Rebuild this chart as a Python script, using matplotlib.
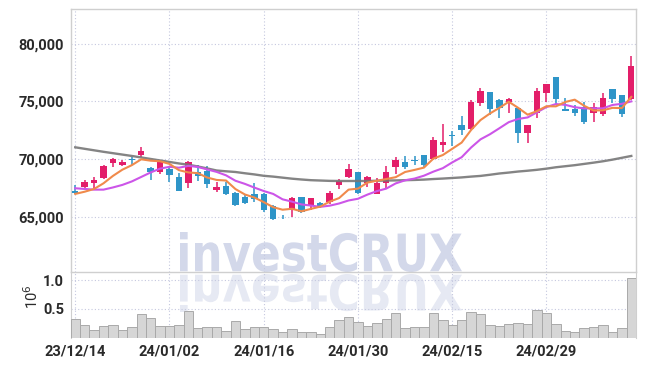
import numpy as np
import matplotlib.pyplot as plt
from matplotlib.textpath import TextPath
from matplotlib.patches import PathPatch
from matplotlib.font_manager import FontProperties
from matplotlib.transforms import Affine2D, IdentityTransform
from matplotlib.ticker import FuncFormatter

# dane (kurs dzienny, 60 sesji)
tick_labels = ['23/12/14', '24/01/02', '24/01/16', '24/01/30', '24/02/15', '24/02/29']
tick_pos = [0, 10, 20, 30, 40, 50]

opens = [67250, 67570, 67890, 68330, 69630, 69510, 70000, 70350, 69190, 68850,
         69110, 68410, 67950, 68900, 68990, 67310, 67660, 67030, 66730, 66970,
         66970, 65920, 65000, 65640, 66680, 66010, 66160, 66300, 67750, 68470,
         68870, 67890, 66970, 67890, 69280, 69770, 69910, 70350, 69970, 71240,
         72110, 72950, 72570, 74830, 75810, 75120, 74970, 74400, 72280, 73960,
         75750, 77080, 74310, 74310, 74530, 73960, 73880, 76040, 75550, 75180]
closes = [67030, 68030, 68180, 69420, 69970, 69770, 69950, 70720, 68850, 69710,
          68610, 67250, 69710, 68550, 67810, 67600, 66970, 66010, 66210, 66510,
          65580, 64770, 64950, 66590, 65430, 66590, 65810, 67080, 68120, 69110,
          67030, 68410, 67890, 68850, 69910, 69280, 69830, 69480, 71650, 71470,
          71990, 72510, 74940, 75920, 74360, 74400, 75200, 72280, 72950, 75900,
          76500, 75160, 74190, 73960, 73230, 74480, 75260, 75200, 73880, 78060]
highs = [67750, 68180, 68470, 69510, 70090, 69910, 70150, 71070, 69300, 69880,
         69330, 68760, 69830, 69480, 69420, 68030, 68030, 67160, 66880, 67900,
         67030, 66010, 65140, 66730, 66730, 66640, 66300, 67250, 68240, 69570,
         68900, 68530, 68330, 69390, 70150, 70260, 70290, 70350, 71880, 73010,
         72450, 73730, 75110, 76130, 75810, 75180, 75260, 74420, 72950, 76130,
         76500, 77080, 75260, 74680, 74970, 74830, 75750, 76040, 75550, 78930]
lows = [66970, 67460, 67490, 68240, 69330, 69390, 69480, 70200, 68180, 68670,
        68030, 67200, 67510, 68090, 67510, 67170, 66880, 65930, 66100, 66300,
        65400, 64710, 64770, 64950, 65320, 65580, 65730, 66100, 67370, 68330,
        66970, 67550, 66920, 67370, 68700, 69110, 69480, 69330, 69910, 70630,
        71130, 72080, 72510, 74600, 73810, 73530, 73960, 71410, 71360, 73580,
        74970, 74680, 74190, 73730, 73030, 73230, 73750, 74830, 73670, 75120]

ma5 = [66970, 67160, 67400, 67890, 68530, 69070, 69460, 69970, 69850, 69800,
       69570, 69030, 68830, 68770, 68390, 68180, 68130, 67390, 66920, 66660,
       66260, 65820, 65600, 65680, 65460, 65670, 65870, 66300, 66610, 67340,
       67430, 67950, 68110, 68260, 68420, 68870, 69050, 69250, 70030, 70340,
       70880, 71420, 72510, 73370, 73940, 74430, 74960, 74430, 73840, 74150,
       74570, 74560, 74940, 75140, 74610, 74200, 74220, 74430, 74410, 75380]
ma10 = [67460, 67400, 67340, 67340, 67530, 67750, 68050, 68440, 68830, 69160,
        69320, 69240, 69400, 69310, 69090, 68880, 68580, 68110, 67840, 67520,
        67220, 66970, 66500, 66300, 66060, 65960, 65850, 65950, 66140, 66400,
        66550, 66910, 67210, 67430, 67880, 68150, 68300, 68550, 68900, 69200,
        69700, 70150, 70990, 71700, 72140, 72660, 73190, 73470, 73600, 74050,
        74500, 74760, 74690, 74490, 74380, 74390, 74390, 74680, 74780, 74990]
ma_long = [71010, 70880, 70750, 70620, 70500, 70380, 70260, 70130, 70000, 69870,
           69740, 69610, 69500, 69350, 69180, 69000, 68930, 68870, 68760, 68660,
           68540, 68470, 68380, 68290, 68220, 68160, 68130, 68100, 68090, 68090,
           68090, 68090, 68110, 68130, 68140, 68160, 68180, 68210, 68260, 68300,
           68350, 68400, 68470, 68530, 68630, 68740, 68820, 68910, 68980, 69060,
           69160, 69280, 69370, 69460, 69570, 69680, 69800, 69940, 70100, 70260]

# wolumen w milionach
volumes = [0.317, 0.217, 0.130, 0.200, 0.217, 0.130, 0.177, 0.405, 0.334, 0.200,
           0.200, 0.217, 0.461, 0.170, 0.190, 0.183, 0.108, 0.282, 0.144, 0.177,
           0.177, 0.143, 0.092, 0.143, 0.104, 0.092, 0.057, 0.177, 0.304, 0.351,
           0.264, 0.195, 0.247, 0.317, 0.421, 0.157, 0.177, 0.177, 0.421, 0.304,
           0.217, 0.304, 0.438, 0.405, 0.217, 0.200, 0.235, 0.247, 0.230, 0.478,
           0.421, 0.235, 0.113, 0.090, 0.162, 0.179, 0.214, 0.090, 0.162, 1.030]

UP = '#e31e69'
DOWN = '#2e95c8'
GRID = '#c5c8df'
SPINE = '#cfcfcf'
TXT = '#2a2a2a'

plt.rcParams['font.family'] = ['Roboto', 'DejaVu Sans']

W, H = 645, 366
fig = plt.figure(figsize=(W / 100, H / 100), dpi=100)
ax = fig.add_axes([71 / W, 1 - 272 / H, (636 - 71) / W, (272 - 9) / H])
axv = fig.add_axes([71 / W, 1 - 337.5 / H, (636 - 71) / W, 65.5 / H], sharex=ax)

# znak wodny + odbicie
fp = FontProperties(family='DejaVu Sans', weight='bold')
tp = TextPath((0, 0), 'investCRUX', size=100, prop=fp)
bb = tp.get_extents()
sx = 282 / bb.width
sy = 40 / bb.height
t1 = Affine2D().translate(-bb.x0, -bb.y0).scale(sx, sy).translate(180, H - 272)
t2 = Affine2D().translate(-bb.x0, -bb.y0).scale(sx, -sy * 0.95).translate(180, H - 274)
fig.add_artist(PathPatch(t1.transform_path(tp), fc='#d3d8ea', ec='none',
                         transform=IdentityTransform(), zorder=-5))
fig.add_artist(PathPatch(t2.transform_path(tp), fc='#e6e9f3', ec='none',
                         transform=IdentityTransform(), zorder=-5))

x = np.arange(len(closes))
o = np.array(opens)
c = np.array(closes)
colors = [UP if cc >= oo else DOWN for oo, cc in zip(o, c)]

# świece
ax.vlines(x, lows, highs, colors=colors, linewidth=1.1, zorder=3)
ax.bar(x, np.maximum(np.abs(c - o), 40), bottom=np.minimum(o, c), width=0.68,
       color=colors, linewidth=0, zorder=3)

ax.plot(x, ma_long, color='#777777', linewidth=1.7, alpha=0.9, zorder=4)
ax.plot(x, ma10, color='#cc55e8', linewidth=1.5, zorder=4)
ax.plot(x, ma5, color='#f08a4b', linewidth=1.5, zorder=4)

ax.set_ylim(60200, 83000)
ax.set_xlim(-0.45, 59.5)
ax.set_yticks([65000, 70000, 75000, 80000])
ax.yaxis.set_major_formatter(FuncFormatter(lambda v, p: f'{int(v):,}'))
ax.set_facecolor('none')
ax.grid(True, color=GRID, linestyle=(0, (1, 2)), linewidth=0.8)
ax.set_axisbelow(True)
ax.tick_params(axis='both', length=0, labelsize=10.5, labelcolor=TXT, pad=5)
ax.tick_params(axis='x', labelbottom=False)
for s in ['top', 'left', 'right', 'bottom']:
    ax.spines[s].set_color(SPINE)
    ax.spines[s].set_linewidth(1.0)
for lab in ax.get_yticklabels():
    lab.set_fontweight('bold')

# wolumen
axv.bar(x, volumes, width=1.0, color='#d6d6d6', edgecolor='#a9a9a9', linewidth=0.7, zorder=3)
axv.set_ylim(0, 1.14)
axv.set_yticks([0.5, 1.0])
axv.set_yticklabels(['0.5', '1.0'])
axv.set_xticks(tick_pos)
axv.set_xticklabels(tick_labels)
axv.set_facecolor('none')
axv.grid(True, color=GRID, linestyle=(0, (1, 2)), linewidth=0.8)
axv.set_axisbelow(True)
axv.tick_params(axis='both', length=0, labelsize=10.5, labelcolor=TXT, pad=5)
axv.spines['top'].set_visible(False)
axv.spines['bottom'].set_visible(False)
axv.spines['left'].set_color(SPINE)
axv.spines['right'].set_color(SPINE)
for lab in axv.get_yticklabels() + axv.get_xticklabels():
    lab.set_fontweight('bold')

fig.text(32 / W, 1 - 297 / H, '10$^6$', rotation=90, ha='center', va='center',
         fontsize=10.5, color=TXT)

fig.savefig('out.png', dpi=100)
